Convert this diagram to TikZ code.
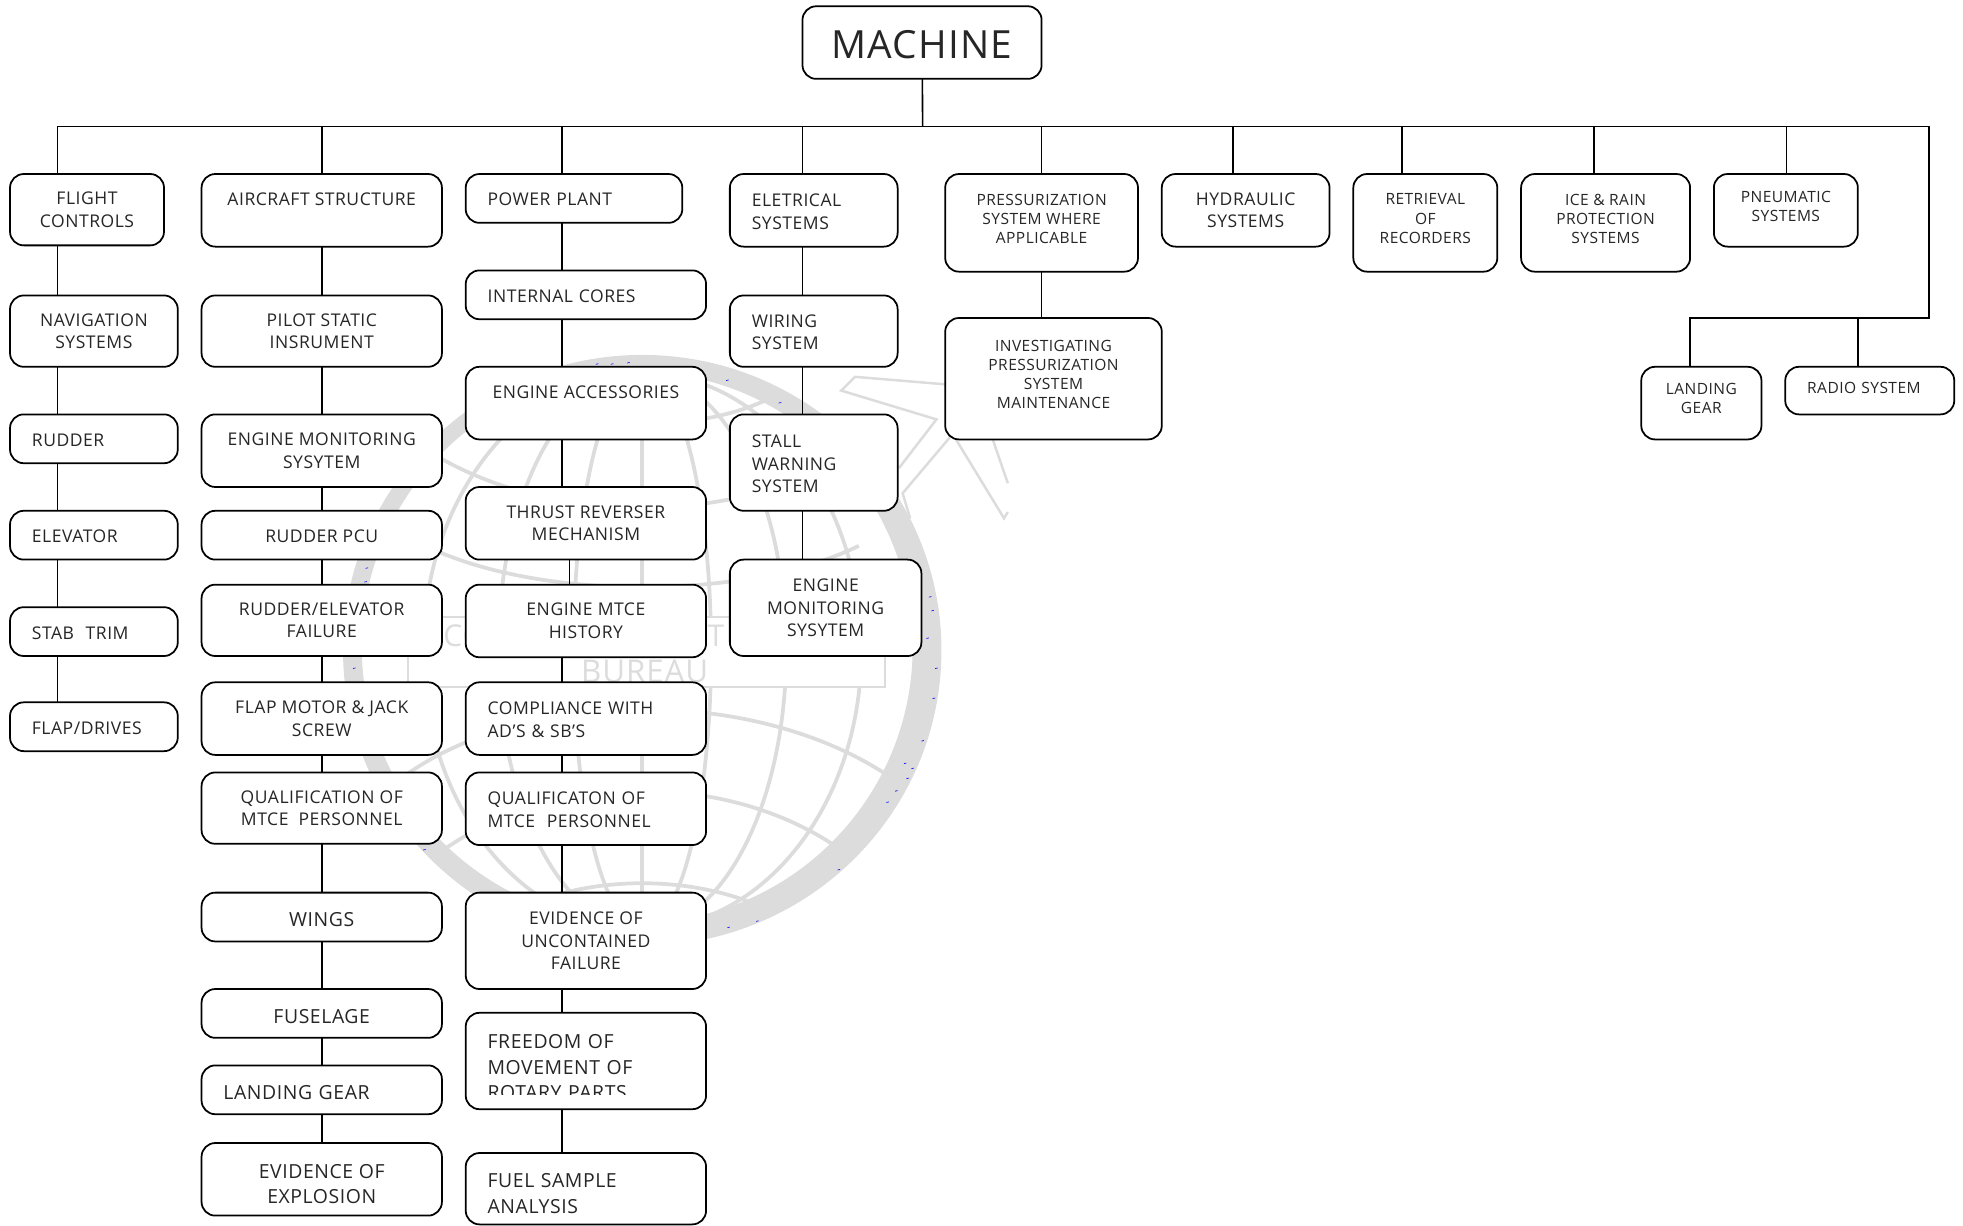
\documentclass[tikz,border=0pt]{standalone}
\usepackage{fontspec}
\setmainfont{Open Sans}[LetterSpace=3]
\usetikzlibrary{positioning}
\definecolor{wmgray}{HTML}{DCDCDC}
\tikzset{
    block/.style={draw, fill=white, rounded corners=11pt, line width=1.4pt, outer sep=0pt, inner sep=1pt, align=center, text=black!85, font=\fontsize{14}{18}\selectfont, execute at begin node={\rule{0pt}{12pt}}},
    leftblock/.style={block, align=left, inner xsep=17.5pt},
    smallblock/.style={block, font=\fontsize{12.4}{15.2}\selectfont, execute at begin node={}, execute at end node={\rule[-7pt]{0pt}{7pt}}},
    bigblock/.style={block, font=\fontsize{15.5}{20.5}\selectfont, execute at begin node={\rule{0pt}{15.5pt}}},
    bigleftblock/.style={leftblock, font=\fontsize{15.5}{20.5}\selectfont, execute at begin node={\rule{0pt}{15.5pt}}},
    link/.style={line width=1.3pt},
    globeline/.style={draw=wmgray, line width=3pt},
    planeline/.style={draw=wmgray, line width=2pt},
}
\begin{document}
\begin{tikzpicture}[x=1pt, y=-1pt]
    \useasboundingbox (0,0) rectangle (1568,979);
    \fill [wmgray, even odd rule] (513,519.5) ellipse [x radius=239, y radius=236] (509,517) circle [radius=220];
    \foreach \rx in {55, 115, 175}
        \draw [globeline] (513,520) ellipse [x radius=\rx, y radius=222];
    \draw [globeline] (513,297) -- (513,742);
    \draw [globeline] (415,320) .. controls (470,345) and (556,345) .. (611,320);
    \draw [globeline] (345,362) .. controls (440,420) and (586,420) .. (681,362);
    \draw [globeline] (340,436) .. controls (430,480) and (596,480) .. (686,436);
    \draw [globeline] (320,622) .. controls (420,548) and (606,548) .. (713,622);
    \draw [globeline] (350,682) .. controls (440,615) and (586,615) .. (676,682);
    \draw [globeline] (410,728) .. controls (470,698) and (556,698) .. (616,728);
    \draw [planeline] (755,307) -- (683,301) -- (672,312) -- (748,335) -- (718,374);
    \draw [planeline] (759,349) -- (721,394) -- (727,414);
    \draw [planeline] (763,350) -- (802,414) -- (805,409);
    \draw [planeline] (793,351) -- (805,386);
    \node [draw=wmgray, fill=white, line width=1.5pt, minimum width=381pt, minimum height=56pt, anchor=north west] (WM) at (325,492) {};
    \node [text=wmgray, font=\fontsize{24}{24}\selectfont, anchor=west, inner sep=0pt] (WMA) at (354,508) {CO};
    \node [text=wmgray, font=\fontsize{24}{24}\selectfont, anchor=west, inner sep=0pt] (WMB) at (565,508) {T};
    \node [text=wmgray, font=\fontsize{25}{25}\selectfont, anchor=west, inner sep=0pt] (WMC) at (464,536) {BUREAU};
    \foreach \sx/\sy in {292/454, 291/465, 282/534, 338/679, 476/291, 488/291, 501/290, 580/304, 622/322, 742/477, 744/488, 740/510, 747/534, 745/558, 736/592, 722/610, 728/614, 724/622, 715/632, 708/641, 669/695, 604/736, 581/741}
        \draw [blue, line width=0.5pt] (\sx,\sy) -- ++(2,-0.5);

    \node [block, font=\fontsize{31}{31}\selectfont, execute at begin node={\rule{0pt}{26pt}}, minimum width=191pt, minimum height=58pt, anchor=north west] (MA) at (641,5) {MACHINE};

    \node [block, minimum width=123pt, minimum height=57pt, anchor=north west] (FC) at (8,139) {FLIGHT\\CONTROLS};
    \node [block, minimum width=134pt, minimum height=57pt, below right = 40pt and 0pt of FC.south west] (NS) {NAVIGATION\\SYSTEMS};
    \node [leftblock, text width=99pt, minimum height=39pt, below right = 38pt and 0pt of NS.south west] (RU) {RUDDER};
    \node [leftblock, text width=99pt, minimum height=39pt, below right = 38pt and 0pt of RU.south west] (EL) {ELEVATOR};
    \node [leftblock, text width=99pt, minimum height=39pt, below right = 38pt and 0pt of EL.south west] (ST) {STAB\ \ TRIM};
    \node [leftblock, text width=99pt, minimum height=39pt, below right = 37pt and 0pt of ST.south west] (FD) {FLAP/DRIVES};

    \node [block, minimum width=192pt, minimum height=58pt, anchor=north west] (AS) at (161,139) {AIRCRAFT STRUCTURE\\~};
    \node [block, minimum width=192pt, minimum height=57pt, below right = 39pt and 0pt of AS.south west] (PS) {PILOT STATIC\\INSRUMENT};
    \node [block, minimum width=192pt, minimum height=58pt, below right = 38pt and 0pt of PS.south west] (EM) {ENGINE MONITORING\\SYSYTEM};
    \node [block, minimum width=192pt, minimum height=39pt, below right = 19pt and 0pt of EM.south west] (RP) {RUDDER PCU};
    \node [block, minimum width=192pt, minimum height=57pt, below right = 20pt and 0pt of RP.south west] (RE) {RUDDER/ELEVATOR\\FAILURE};
    \node [block, minimum width=192pt, minimum height=58pt, below right = 21pt and 0pt of RE.south west] (FM) {FLAP MOTOR \& JACK\\SCREW};
    \node [block, minimum width=192pt, minimum height=57pt, below right = 14pt and 0pt of FM.south west] (QM) {QUALIFICATION OF\\MTCE\ \ PERSONNEL};
    \node [bigblock, minimum width=192pt, minimum height=39pt, below right = 39pt and 0pt of QM.south west] (WI) {WINGS};
    \node [bigblock, minimum width=192pt, minimum height=39pt, below right = 38pt and 0pt of WI.south west] (FU) {FUSELAGE};
    \node [bigleftblock, text width=157pt, minimum height=39pt, below right = 22pt and 0pt of FU.south west] (LG) {LANDING GEAR};
    \node [bigblock, minimum width=192pt, minimum height=58pt, below right = 23pt and 0pt of LG.south west] (EX) {\rule{0pt}{19pt}EVIDENCE OF\\EXPLOSION};

    \node [leftblock, text width=138pt, minimum height=39pt, anchor=north west] (PP) at (372,139) {POWER PLANT};
    \node [leftblock, text width=157pt, minimum height=39pt, below right = 38pt and 0pt of PP.south west] (IC) {INTERNAL CORES};
    \node [block, minimum width=192pt, minimum height=58pt, below right = 38pt and 0pt of IC.south west] (EA) {ENGINE ACCESSORIES\\~};
    \node [block, minimum width=192pt, minimum height=58pt, below right = 38pt and 0pt of EA.south west] (TR) {THRUST REVERSER\\MECHANISM};
    \node [block, minimum width=192pt, minimum height=58pt, below right = 20pt and 0pt of TR.south west] (EH) {ENGINE MTCE\\HISTORY};
    \node [leftblock, text width=157pt, minimum height=58pt, below right = 20pt and 0pt of EH.south west] (CO) {COMPLIANCE WITH\\AD'S \& SB'S};
    \node [leftblock, text width=157pt, minimum height=58pt, below right = 14pt and 0pt of CO.south west] (QP) {QUALIFICATON OF\\MTCE\ \ PERSONNEL};
    \node [block, minimum width=192pt, minimum height=77pt, below right = 38pt and 0pt of QP.south west] (UF) {EVIDENCE OF\\UNCONTAINED\\FAILURE};
    \node [bigleftblock, text width=157pt, minimum height=77pt, below right = 19pt and 0pt of UF.south west] (FR) {\rule{0pt}{21pt}FREEDOM OF\\MOVEMENT OF\\ROTARY PARTS};
    \fill [white] ([shift={(12pt,11pt)}]FR.south west) rectangle ([shift={(-12pt,1pt)}]FR.south east);
    \node [bigleftblock, text width=157pt, minimum height=57pt, below right = 35pt and 0pt of FR.south west] (FS) {\rule{0pt}{19pt}FUEL SAMPLE\\ANALYSIS};

    \node [leftblock, text width=99pt, minimum height=58pt, anchor=north west] (ES) at (583,139) {ELETRICAL\\SYSTEMS};
    \node [leftblock, text width=99pt, minimum height=57pt, below right = 39pt and 0pt of ES.south west] (WS) {WIRING\\SYSTEM};
    \node [leftblock, text width=99pt, minimum height=77pt, below right = 38pt and 0pt of WS.south west] (SW) {STALL\\WARNING\\SYSTEM};
    \node [block, minimum width=153pt, minimum height=77pt, below right = 39pt and 0pt of SW.south west] (EN) {ENGINE\\MONITORING\\SYSYTEM};

    \node [smallblock, minimum width=154pt, minimum height=78pt, anchor=north west] (PR) at (755,139) {PRESSURIZATION\\SYSTEM WHERE\\APPLICABLE};
    \node [smallblock, minimum width=173pt, minimum height=97pt, below right = 37pt and 0pt of PR.south west] (IP) {INVESTIGATING\\PRESSURIZATION\\SYSTEM\\MAINTENANCE};
    \node [block, minimum width=134pt, minimum height=58pt, anchor=north west] (HY) at (928,139) {HYDRAULIC\\SYSTEMS};
    \node [smallblock, minimum width=115pt, minimum height=78pt, anchor=north west] (RR) at (1081,139) {RETRIEVAL\\OF\\RECORDERS};
    \node [smallblock, minimum width=135pt, minimum height=78pt, anchor=north west] (IR) at (1215,139) {ICE \& RAIN\\PROTECTION\\SYSTEMS};
    \node [smallblock, minimum width=115pt, minimum height=58pt, anchor=north west] (PN) at (1369,139) {PNEUMATIC\\SYSTEMS};
    \node [smallblock, execute at end node={\rule[-2pt]{0pt}{2pt}}, minimum width=96pt, minimum height=58pt, anchor=north west] (LA) at (1311,293) {LANDING\\GEAR};
    \node [smallblock, align=left, inner xsep=17.5pt, text width=100pt, minimum height=38pt, anchor=north west] (RS) at (1426,293) {RADIO SYSTEM};

    \coordinate (bus) at (737,101);
    \coordinate (busend) at (1541,101);
    \coordinate (turn) at (1541,254);
    \coordinate (colA) at (46,101);
    \coordinate (colB) at (257,101);
    \coordinate (colC) at (449,101);
    \coordinate (colD) at (641,101);
    \coordinate (colE) at (832,101);
    \coordinate (colF) at (985,101);
    \coordinate (colG) at (1120,101);
    \coordinate (colH) at (1273,101);
    \coordinate (colI) at (1427,101);
    \coordinate (colJ) at (1350,254);
    \coordinate (colK) at (1484,254);
    \coordinate (colL) at (455,101);

    \draw [link] (MA) -- (bus);
    \draw [link] (colA) -- (busend) -- (turn) -- (colJ) -- (colJ |- LA.north);
    \draw [link] (colK) -- (colK |- RS.north);
    \foreach \top/\col in {FC/colA, AS/colB, PP/colC, ES/colD, PR/colE, HY/colF, RR/colG, IR/colH, PN/colI}
        \draw [link] (\col) -- (\col |- \top.north);
    \foreach \up/\down in {FC/NS, NS/RU, RU/EL, EL/ST, ST/FD}
        \draw [link] (colA |- \up.south) -- (colA |- \down.north);
    \foreach \up/\down in {AS/PS, PS/EM, EM/RP, RP/RE, RE/FM, FM/QM, QM/WI, WI/FU, FU/LG, LG/EX}
        \draw [link] (colB |- \up.south) -- (colB |- \down.north);
    \foreach \up/\down in {PP/IC, IC/EA, EA/TR, EH/CO, CO/QP, QP/UF, UF/FR, FR/FS}
        \draw [link] (colC |- \up.south) -- (colC |- \down.north);
    \draw [link] (colL |- TR.south) -- (colL |- EH.north);
    \foreach \up/\down in {ES/WS, WS/SW, SW/EN}
        \draw [link] (colD |- \up.south) -- (colD |- \down.north);
    \draw [link] (colE |- PR.south) -- (colE |- IP.north);
\end{tikzpicture}
\end{document}
